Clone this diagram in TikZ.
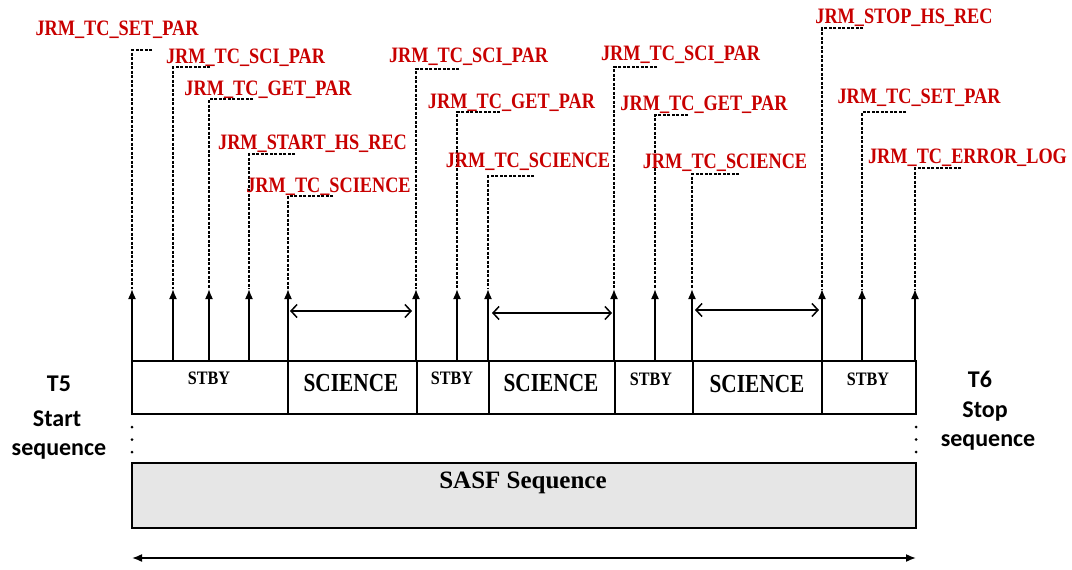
\documentclass[tikz,border=0pt]{standalone}
\usepackage{fontspec}
\setmainfont{Liberation Serif}
\newfontfamily\calibfont{Carlito}
\usetikzlibrary{arrows.meta}
\definecolor{lblred}{RGB}{200,0,0}
\definecolor{sasfgray}{RGB}{230,230,230}
\begin{document}
\begin{tikzpicture}[x=1pt,y=-1pt,
  evtlbl/.style={text=lblred, font=\fontsize{22}{22}\selectfont\bfseries, inner sep=0pt, text height=14.6pt, text depth=0pt, anchor=center},
  seg/.style={draw, line width=1.7pt, minimum height=53pt, inner sep=0pt},
  stbytxt/.style={font=\fontsize{19}{19}\selectfont\bfseries, inner sep=0pt},
  scitxt/.style={font=\fontsize{26}{26}\selectfont\bfseries, inner sep=0pt},
  sidetxt/.style={font=\calibfont\bfseries\fontsize{24}{24}\selectfont, inner sep=0pt, anchor=base},
  solidline/.style={line width=1.6pt, -{Latex[length=10pt,width=8pt]}},
  leader/.style={line width=1.4pt, dash pattern=on 3pt off 1.5pt},
  durarrow/.style={line width=1.5pt, {Straight Barb[length=6pt,width=13pt]}-{Straight Barb[length=6pt,width=13pt]}},
  dotline/.style={line width=3pt, line cap=round, dash pattern=on 0pt off 12.5pt}
]
\useasboundingbox (0,0) rectangle (1072,570);

% mode segments
\node[seg, minimum width=156pt] (b1) at (210,387.5) {};
\node[seg, minimum width=129pt] (b2) at (352.5,387.5) {};
\node[seg, minimum width=72pt]  (b3) at (453,387.5) {};
\node[seg, minimum width=126pt] (b4) at (552,387.5) {};
\node[seg, minimum width=78pt]  (b5) at (654,387.5) {};
\node[seg, minimum width=129pt] (b6) at (757.5,387.5) {};
\node[seg, minimum width=94pt]  (b7) at (869,387.5) {};

\node[stbytxt] (tb1) at (209,378) {\scalebox{0.85}[1]{STBY}};
\node[scitxt]  (tb2) at (351,383) {\scalebox{0.82}[1]{SCIENCE}};
\node[stbytxt] (tb3) at (452,378) {\scalebox{0.85}[1]{STBY}};
\node[scitxt]  (tb4) at (551,383) {\scalebox{0.82}[1]{SCIENCE}};
\node[stbytxt] (tb5) at (651,379) {\scalebox{0.85}[1]{STBY}};
\node[scitxt]  (tb6) at (757,384) {\scalebox{0.82}[1]{SCIENCE}};
\node[stbytxt] (tb7) at (868,379) {\scalebox{0.85}[1]{STBY}};

% SASF box
\node[draw, line width=1.7pt, fill=sasfgray, minimum width=784pt, minimum height=65pt, inner sep=0pt] (sasf) at (524,495.5) {};
\node[font=\fontsize{25}{25}\selectfont\bfseries, inner sep=0pt] (sasftxt) at (523,483) {SASF Sequence};

% telecommand events
\foreach \i/\x/\yt/\xe/\lx/\ly/\txt in {
  1/132/50/152/117/28/JRM\_TC\_SET\_PAR,
  2/173/67/210/245.5/56/JRM\_TC\_SCI\_PAR,
  3/209/99/253/268/88/JRM\_TC\_GET\_PAR,
  4/249/154/295/312.5/142/JRM\_START\_HS\_REC,
  5/288/196/333/328.5/185/JRM\_TC\_SCIENCE,
  6/416/69/459/468.5/55/JRM\_TC\_SCI\_PAR,
  7/457/112/500/511.5/101/JRM\_TC\_GET\_PAR,
  8/488/176/534/528/160/JRM\_TC\_SCIENCE,
  9/614/67/657/680.5/53/JRM\_TC\_SCI\_PAR,
  10/655/115/688/704/103/JRM\_TC\_GET\_PAR,
  11/692/174/739/725/161/JRM\_TC\_SCIENCE,
  12/822/28/863/904/16/JRM\_STOP\_HS\_REC,
  13/862/112/906/919/96/JRM\_TC\_SET\_PAR,
  14/915/168/961/967.5/156/JRM\_TC\_ERROR\_LOG}{
  \coordinate (base\i) at (\x,361);
  \coordinate (tip\i) at (\x,289);
  \coordinate (knee\i) at (\x,\yt);
  \coordinate (lead\i) at (\xe,\yt);
  \node[evtlbl] (lbl\i) at (\lx,\ly) {\scalebox{0.83}[1]{\txt}};
  \draw[solidline] (base\i) -- (tip\i);
  \draw[leader] (lead\i) -- (knee\i) -- (tip\i);
}

% science durations
\coordinate (d1a) at (290,311); \coordinate (d1b) at (412,311);
\coordinate (d2a) at (492,313); \coordinate (d2b) at (612,313);
\coordinate (d3a) at (695,310); \coordinate (d3b) at (819,310);
\draw[durarrow] (d1a) -- (d1b);
\draw[durarrow] (d2a) -- (d2b);
\draw[durarrow] (d3a) -- (d3b);

% dotted continuation
\coordinate (dl1) at (132,427); \coordinate (dl2) at (132,452.5);
\coordinate (dr1) at (916,427); \coordinate (dr2) at (916,452.5);
\draw[dotline] (dl1) -- (dl2);
\draw[dotline] (dr1) -- (dr2);

% overall span
\coordinate (spanL) at (132,558); \coordinate (spanR) at (916,558);
\draw[line width=1.6pt, {Latex[length=10pt,width=8pt]}-{Latex[length=10pt,width=8pt]}] (spanL) -- (spanR);

% side texts
\node[sidetxt] (t5a) at (59,391) {T5};
\node[sidetxt] (t5b) at (57,426) {Start};
\node[sidetxt] (t5c) at (59,455) {sequence};
\node[sidetxt] (t6a) at (980,387) {T6};
\node[sidetxt] (t6b) at (985,417) {Stop};
\node[sidetxt] (t6c) at (988,446) {sequence};
\end{tikzpicture}
\end{document}
